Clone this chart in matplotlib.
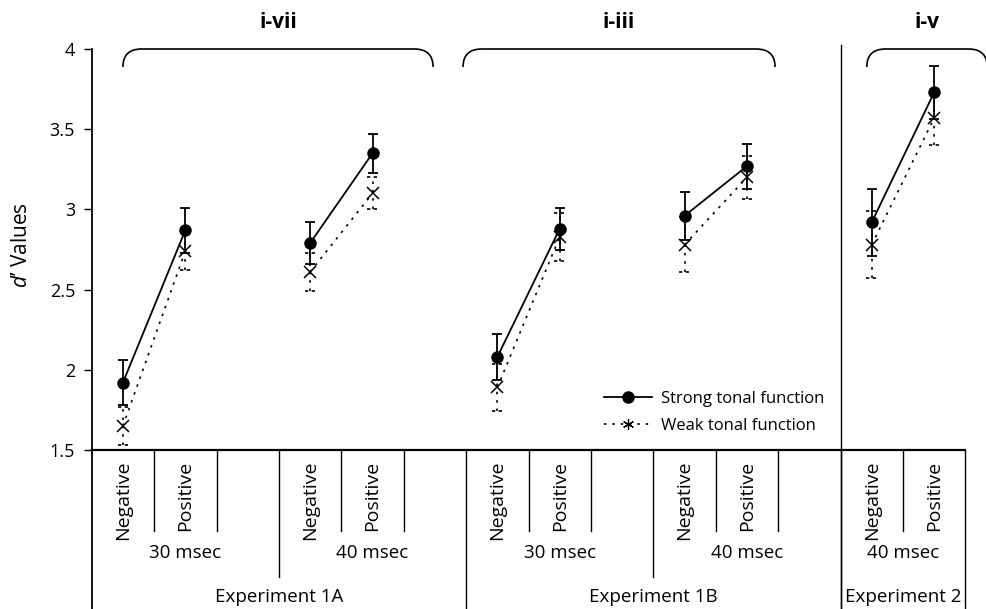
import matplotlib
matplotlib.use("Agg")
import matplotlib.pyplot as plt
import matplotlib.transforms as mtransforms
from matplotlib.path import Path
from matplotlib.patches import PathPatch
from matplotlib.lines import Line2D

plt.rcParams['font.family'] = ['Open Sans', 'DejaVu Sans']
plt.rcParams['mathtext.fontset'] = 'custom'
plt.rcParams['mathtext.it'] = 'Open Sans:italic'
plt.rcParams['mathtext.rm'] = 'Open Sans'

# ---------------- data ----------------
experiments = ["Experiment 1A", "Experiment 1B", "Experiment 2"]
durations = [["30 msec", "40 msec"], ["30 msec", "40 msec"], ["40 msec"]]
conditions = ["Negative", "Positive"]
bracket_labels = ["i-vii", "i-iii", "i-v"]

strong_means = [1.92, 2.87, 2.79, 3.35, 2.08, 2.88, 2.96, 3.27, 2.92, 3.73]
strong_err = [0.14, 0.14, 0.13, 0.12, 0.145, 0.13, 0.15, 0.14, 0.21, 0.165]
weak_means = [1.65, 2.74, 2.61, 3.10, 1.89, 2.83, 2.78, 3.20, 2.78, 3.57]
weak_err = [0.12, 0.12, 0.12, 0.10, 0.145, 0.15, 0.17, 0.135, 0.21, 0.17]

yticks = [1.5, 2, 2.5, 3, 3.5, 4]
ytick_labels = ["1.5", "2", "2.5", "3", "3.5", "4"]

# ---------------- layout of slots ----------------
# each duration group = Negative, Positive, spacer slot (last group has no spacer)
xs = []
group_spans = []      # (start, end, label)
exp_spans = []        # (start, end, label)
slot = 0
n_groups_total = sum(len(d) for d in durations)
gcount = 0
for ei, exp in enumerate(experiments):
    estart = slot - 0.5
    for d in durations[ei]:
        gcount += 1
        gstart = slot - 0.5
        for c in conditions:
            xs.append(slot)
            slot += 1
        if gcount < n_groups_total:
            slot += 1
        gend = slot - 0.5
        group_spans.append((gstart, gend, d))
    exp_spans.append((estart, slot - 0.5, exp))
xmax = slot - 0.5

W, H = 987, 609
fig = plt.figure(figsize=(W / 100, H / 100), dpi=100)
ax_left, ax_right = 91.7 / W, 965.4 / W
ax_bottom = (H - 450) / H
ax_top = (H - 49) / H
ax = fig.add_axes([ax_left, ax_bottom, ax_right - ax_left, ax_top - ax_bottom])
ax.set_xlim(-0.5, xmax)
ax.set_ylim(1.5, 4.0)

for s in ['top', 'right', 'left']:
    ax.spines[s].set_visible(False)
ax.spines['bottom'].set_linewidth(1.6)
ax.set_xticks([])
ax.set_yticks(yticks)
ax.set_yticklabels(ytick_labels, fontsize=13)
ax.tick_params(axis='y', direction='out', length=6, width=1.0, pad=6)

# weak series (dotted)
cap_w = 0.085
dots = (0, (1.5, 3.5))
for i in range(0, len(xs), 2):
    ax.plot(xs[i:i + 2], weak_means[i:i + 2], color='black', lw=1.2,
            linestyle=dots, zorder=2)
ax.vlines(xs, [m - e for m, e in zip(weak_means, weak_err)],
          [m + e for m, e in zip(weak_means, weak_err)],
          colors='black', linestyles=[dots], lw=1.2, zorder=2)
for yy in ([m - e for m, e in zip(weak_means, weak_err)],
           [m + e for m, e in zip(weak_means, weak_err)]):
    ax.hlines(yy, [x - cap_w for x in xs], [x + cap_w for x in xs],
              colors='black', linestyles=[(0, (2, 2))], lw=1.2, zorder=2)
ax.plot(xs, weak_means, linestyle='none', marker='x', ms=8,
        mec='black', mew=1.1, zorder=3)

# strong series (solid)
for i in range(0, len(xs), 2):
    ax.plot(xs[i:i + 2], strong_means[i:i + 2], color='black', lw=1.3, zorder=4)
ax.errorbar(xs, strong_means, yerr=strong_err, fmt='o', color='black', ms=8,
            elinewidth=1.3, capsize=3.6, capthick=1.3, zorder=5)

# legend
h1 = Line2D([], [], color='black', lw=1.3, marker='o', ms=8)
h2 = Line2D([], [], color='black', lw=1.2, linestyle=dots, marker=(6, 2, 0),
            ms=8, mew=0.9)
ax.legend([h1, h2], ["Strong tonal function", "Weak tonal function"],
          loc='upper left', bbox_to_anchor=((604 - 91.7) / 873.7, (450 - 391) / 401),
          frameon=False, fontsize=12, handlelength=2.9, handletextpad=0.55,
          borderpad=0, borderaxespad=0, labelspacing=0.65, numpoints=1)

# ---------------- table below axis ----------------
tr = mtransforms.blended_transform_factory(ax.transData, fig.transFigure)
y_axis = ax_bottom
y_short = (H - 530.7) / H
y_mid = (H - 577) / H
y_full_top = (H - 45) / H

def vline(x, y0, y1, lw=1.0):
    ax.add_line(Line2D([x, x], [y0, y1], transform=tr, color='black', lw=lw,
                       clip_on=False))

vline(-0.5, 0, ax_top, lw=1.3)
vline(xmax, 0, y_axis)
exp_ends = [e1 for (_, e1, _) in exp_spans]
for (g0, g1, lab) in group_spans:
    for v in (g0 + 1, g0 + 2):
        if v < g1:
            vline(v, y_short, y_axis)
    if g1 not in exp_ends:
        vline(g1, y_mid, y_axis)
for (e0, e1, lab) in exp_spans[:-1]:
    vline(e1, 0, y_axis)
# experiment 2 separator extends above the axis
vline(exp_spans[-1][0], 0, y_full_top)

for x, c in zip(xs, conditions * (len(xs) // 2)):
    ax.text(x, (H - 461) / H, c, transform=tr, rotation=90, ha='center',
            va='top', fontsize=14)
for (g0, g1, lab) in group_spans:
    ax.text((g0 + g1) / 2, (H - 553) / H, lab, transform=tr, ha='center',
            va='center', fontsize=13.5)
for (e0, e1, lab) in exp_spans:
    ax.text((e0 + e1) / 2, (H - 597) / H, lab, transform=tr, ha='center',
            va='center', fontsize=13.5)

# ---------------- brackets on top ----------------
brackets = [(0, 4.97), (5.45, 10.45), (11.92, 13.85)]
yb_top = (H - 49) / H
yb_end = (H - 67) / H
r = 0.3
for (b0, b1), lab in zip(brackets, bracket_labels):
    verts = [(b0, yb_end), (b0, yb_top), (b0 + r, yb_top), (b1 - r, yb_top),
             (b1, yb_top), (b1, yb_end)]
    codes = [Path.MOVETO, Path.CURVE3, Path.CURVE3, Path.LINETO, Path.CURVE3,
             Path.CURVE3]
    ax.add_patch(PathPatch(Path(verts, codes), transform=tr, fill=False,
                           lw=1.2, color='black', clip_on=False))
    ax.text((b0 + b1) / 2, (H - 22) / H, lab, transform=tr, ha='center',
            va='center', fontsize=15, fontweight='bold')

fig.text(22 / W, (H - 245) / H, "$d$\u2019 Values", rotation=90, ha='center',
         va='center', fontsize=15)

fig.savefig("out.png", dpi=100)
